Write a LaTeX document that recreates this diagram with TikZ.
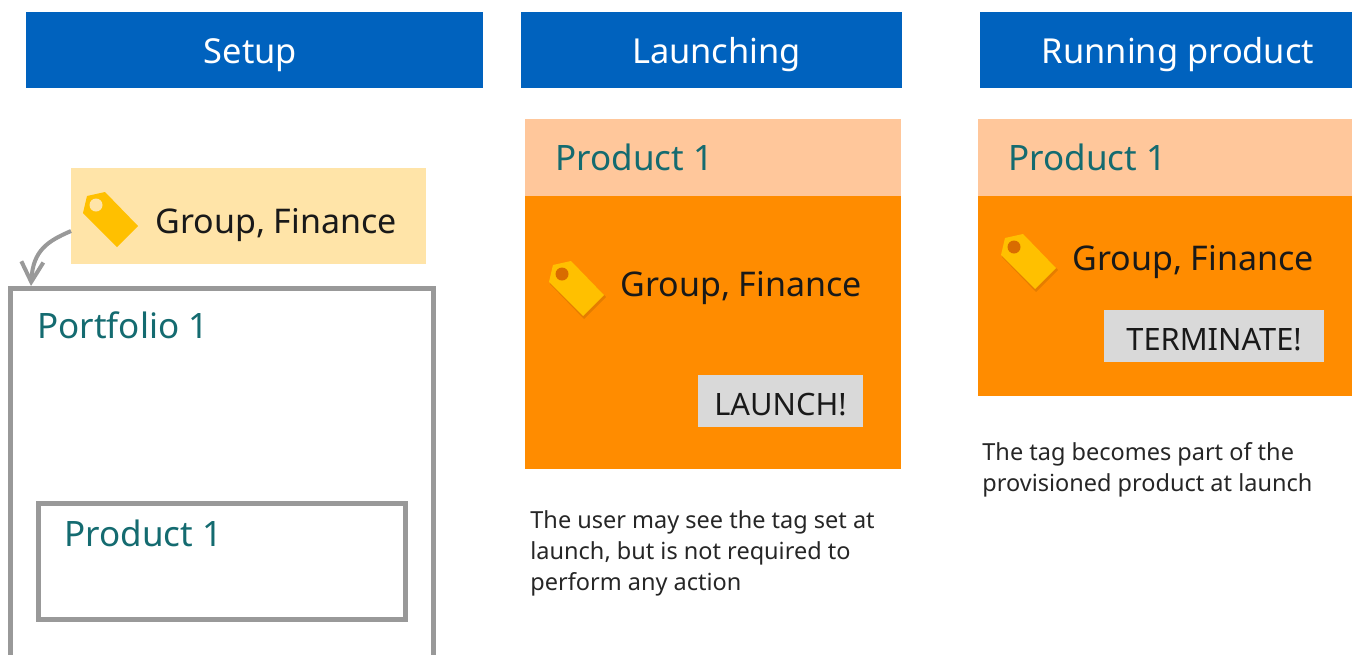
\documentclass[tikz,border=0pt]{standalone}
\usepackage{fontspec}
\setmainfont{Noto Sans}
\usetikzlibrary{arrows.meta}

\definecolor{headblue}{HTML}{0062BE}
\definecolor{tealtext}{HTML}{146B70}
\definecolor{framegrey}{HTML}{999999}
\definecolor{peach}{HTML}{FFC79B}
\definecolor{deeporange}{HTML}{FF8C00}
\definecolor{paleyellow}{HTML}{FFE4A8}
\definecolor{taggold}{HTML}{FFC000}
\definecolor{btngrey}{HTML}{D9D9D9}

\tikzset{
	fillbox/.style={rectangle, draw=none, inner sep=0pt},
	headbox/.style={fillbox, fill=headblue, minimum height=38pt},
	headtext/.style={inner sep=0pt, text=white, font=\fontsize{17.2}{20}\selectfont},
	frame/.style={rectangle, draw=framegrey, line width=2.5pt, inner sep=0pt},
	title/.style={anchor=base west, inner sep=0pt, text=tealtext, font=\fontsize{17.5}{20}\selectfont},
	tagtext/.style={anchor=base west, inner sep=0pt, text=black!90, font=\fontsize{17}{20}\selectfont},
	btn/.style={fillbox, fill=btngrey, text=black!90, text height=14.7pt, text depth=0pt, font=\fontsize{15.4}{18}\selectfont},
	note/.style={anchor=north west, inner sep=0pt, align=left, text=black!85, font=\fontsize{11.75}{15.6}\selectfont},
	pics/pricetag/.style={code={
		\fill[taggold] (-27,-7) -- (-23,-24) -- (-5,-28) -- (28,6) -- (7,27) -- cycle;
		\fill[#1] (-14,-15) circle (6.5);
	}},
	pics/tagshade/.style={code={
		\fill[black, opacity=0.1] (-26,-5) -- (-22,-22) -- (-4,-26) -- (30,8) -- (8,30) -- cycle;
	}}
}

\begin{document}
\begin{tikzpicture}[x=0.5pt, y=-0.5pt]
\useasboundingbox (0,0) rectangle (1352,654);
\clip (0,0) rectangle (1352,654);

% column heads
\foreach \s/\cx/\bw/\tx/\lbl in {setup/254.5/228.5pt/250.5/Setup, launching/711.5/190.5pt/716.5/Launching, running/1166/186pt/1178/Running product}
{
	\node[headbox, minimum width=\bw] (\s) at (\cx,50) {};
	\node[headtext] (\s text) at (\tx,55) {\lbl};
}

% setup column
\node[fillbox, fill=paleyellow, minimum width=177.5pt, minimum height=48pt] (setuptag) at (248.5,216) {};
\pic at (110,220) {pricetag=paleyellow};
\node[tagtext] (setuptagtext) at (155,233) {Group, Finance};
\node[frame, minimum width=211.5pt, minimum height=200pt] (portfolio) at (222,488.5) {};
\node[title] (portfoliotext) at (37,338) {Portfolio 1};
\node[frame, minimum width=183.5pt, minimum height=58pt] (setupprod) at (222,561.5) {};
\node[title] (setupprodtext) at (64,546) {Product 1};
\coordinate (tagout) at (71,231);
\coordinate (tagin) at (31,286);
\draw[framegrey, line width=2pt, -{Straight Barb[length=10pt, width=11pt, line width=2pt]}] (tagout) .. controls (48,241) and (33,250) .. (tagin);

% launching column
\node[fillbox, fill=peach, minimum width=188pt, minimum height=38.5pt] (launchhead) at (713,157.5) {};
\node[fillbox, fill=deeporange, minimum width=188pt, minimum height=136.5pt] (launchbody) at (713,332.5) {};
\node[title] (launchheadtext) at (555,170) {Product 1};
\pic at (576,289) {tagshade};
\pic at (576,289) {pricetag=orange!85!black};
\node[tagtext] (launchtagtext) at (620,296) {Group, Finance};
\node[btn, minimum width=82.5pt, minimum height=26pt] (launchbtn) at (780.5,401) {LAUNCH!};
\node[note] (launchnote) at (530,510) {The user may see the tag set at\\launch, but is not required to\\perform any action};

% running column
\node[fillbox, fill=peach, minimum width=187pt, minimum height=38.5pt] (runhead) at (1165,157.5) {};
\node[fillbox, fill=deeporange, minimum width=187pt, minimum height=100pt] (runbody) at (1165,296) {};
\node[title] (runheadtext) at (1008,170) {Product 1};
\pic at (1028,262) {tagshade};
\pic at (1028,262) {pricetag=orange!85!black};
\node[tagtext] (runtagtext) at (1072,270) {Group, Finance};
\node[btn, minimum width=110pt, minimum height=26pt] (runbtn) at (1214,336) {TERMINATE!};
\node[note] (runnote) at (982,442) {The tag becomes part of the\\provisioned product at launch};
\end{tikzpicture}
\end{document}
